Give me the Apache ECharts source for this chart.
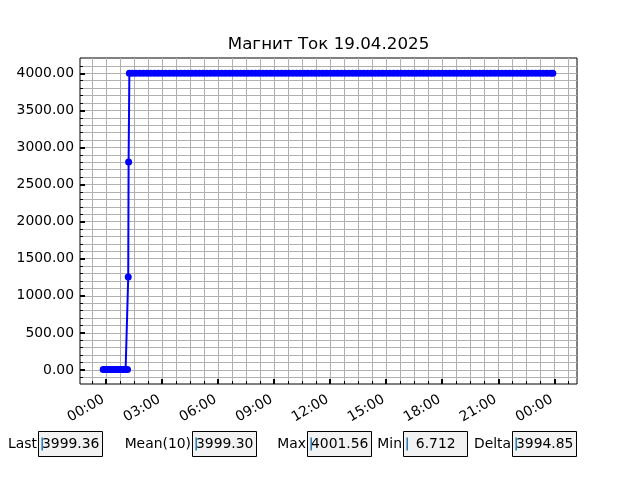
<!DOCTYPE html>
<html><head><meta charset="utf-8">
<script src="https://cdn.jsdelivr.net/npm/echarts@6/dist/echarts.min.js"></script>
<style>html,body{margin:0;padding:0;background:#fff}#c{width:640px;height:480px}</style>
</head><body><div id="c"></div>
<script>
const chartTitle = 'Магнит Ток 19.04.2025';

// time in hours relative to 19.04.2025 00:00
const hours = [
  -0.15, -0.05, 0.05, 0.15, 0.25, 0.35, 0.45, 0.55, 0.65, 0.75, 0.85, 0.95, 1.05, 1.15,
  1.19, 1.21, 1.25,
  1.4, 1.6, 1.8, 2.0, 2.2, 2.4, 2.6, 2.8, 3.0, 3.2,
  3.4, 3.6, 3.8, 4.0, 4.2, 4.4, 4.6, 4.8, 5.0, 5.2,
  5.4, 5.6, 5.8, 6.0, 6.2, 6.4, 6.6, 6.8, 7.0, 7.2,
  7.4, 7.6, 7.8, 8.0, 8.2, 8.4, 8.6, 8.8, 9.0, 9.2,
  9.4, 9.6, 9.8, 10.0, 10.2, 10.4, 10.6, 10.8, 11.0, 11.2,
  11.4, 11.6, 11.8, 12.0, 12.2, 12.4, 12.6, 12.8, 13.0, 13.2,
  13.4, 13.6, 13.8, 14.0, 14.2, 14.4, 14.6, 14.8, 15.0, 15.2,
  15.4, 15.6, 15.8, 16.0, 16.2, 16.4, 16.6, 16.8, 17.0, 17.2,
  17.4, 17.6, 17.8, 18.0, 18.2, 18.4, 18.6, 18.8, 19.0, 19.2,
  19.4, 19.6, 19.8, 20.0, 20.2, 20.4, 20.6, 20.8, 21.0, 21.2,
  21.4, 21.6, 21.8, 22.0, 22.2, 22.4, 22.6, 22.8, 23.0, 23.2,
  23.4, 23.6, 23.8, 23.92
];
const current = [
  6.9, 7.1, 6.8, 7.0, 6.712, 6.9, 7.2, 6.8, 7.0, 6.9, 7.1, 6.8, 7.0, 6.9,
  1253.4, 2803.1, 3999.5,
  3999.8, 4000.1, 3999.6, 3999.9, 4000.2, 3999.7, 3999.5, 4000.0, 3999.8, 3999.4,
  3999.9, 4000.3, 3999.6, 3999.8, 4000.1, 3999.5, 3999.7, 4000.0, 3999.9, 3999.6,
  4000.2, 3999.8, 3999.5, 3999.9, 4000.1, 3999.7, 3999.6, 4000.0, 3999.8, 4000.3,
  3999.7, 3999.9, 4000.2, 3999.6, 4000.1, 3999.8, 4000.4, 4001.2, 4000.3, 3999.7,
  3999.9, 4000.1, 3999.6, 3999.8, 4000.2, 4000.8, 4001.56, 4000.4, 3999.9, 3999.7,
  4000.0, 3999.8, 3999.5, 3999.9, 4000.2, 3999.6, 3999.8, 4000.1, 3999.7, 3999.5,
  3999.9, 4000.0, 3999.6, 3999.8, 4000.2, 3999.7, 3999.4, 3999.9, 4000.1, 3999.6,
  3999.8, 4000.0, 3999.5, 3999.7, 4000.1, 3999.9, 3999.6, 3999.8, 4000.2, 3999.7,
  3999.5, 3999.9, 4000.0, 3999.6, 3999.8, 4000.1, 3999.7, 3999.4, 3999.9, 3999.6,
  4000.0, 3999.8, 3999.5, 3999.7, 4000.1, 3999.6, 3999.9, 3999.8, 3999.4, 3999.7,
  3999.9, 3999.6, 4000.0, 3999.5, 3999.8, 3999.3, 3999.6, 3999.2, 3999.4, 3999.1,
  3999.3, 3999.0, 3999.4, 3999.36
];

const xTickHours = [0, 3, 6, 9, 12, 15, 18, 21, 24];
const xTickLabels = ['00:00', '03:00', '06:00', '09:00', '12:00', '15:00', '18:00', '21:00', '00:00'];
const yTickValues = [0, 500, 1000, 1500, 2000, 2500, 3000, 3500, 4000];

const statLabels = ['Last', 'Mean(10)', 'Max', 'Min', 'Delta'];
const statValues = ['3999.36', '3999.30', '4001.56', '  6.712', '3994.85'];

// axis view range
const X_MIN = -1.392, X_MAX = 25.214;
const Y_MIN = -189, Y_MAX = 4206;

// minor grid positions (45 min in x, 100 in y)
const xMinor = [];
for (let v = -0.75; v <= 24.76; v += 0.75) xMinor.push(Math.round(v * 100) / 100);
const yMinor = [];
for (let v = -100; v <= 4100; v += 100) yMinor.push(v);

const FONT = 'DejaVu Sans';
const chart = echarts.init(document.getElementById('c'), null, {renderer: 'canvas'});

const boxLefts = [38, 192, 307, 403, 512];
const graphics = [{
  type: 'text', x: 328.5, y: 44.5,
  style: {text: chartTitle, font: '16.7px "DejaVu Sans"', fill: '#000', align: 'center', verticalAlign: 'middle'}
}];
statLabels.forEach((lab, i) => {
  const bx = boxLefts[i];
  graphics.push({type: 'text', x: bx - 1, y: 444,
    style: {text: lab, font: '13.9px "DejaVu Sans"', fill: '#000', align: 'right', verticalAlign: 'middle'}});
  graphics.push({type: 'rect', shape: {x: bx + 0.5, y: 431.5, width: 64, height: 25},
    style: {fill: '#f2f2f2', stroke: '#000', lineWidth: 1}});
  graphics.push({type: 'text', x: bx + 4, y: 444, z: 10,
    style: {text: statValues[i], font: '13.9px "DejaVu Sans"', fill: '#000', align: 'left', verticalAlign: 'middle'}});
  graphics.push({type: 'line', z: 11, shape: {x1: bx + 4.2, y1: 437.5, x2: bx + 4.2, y2: 450.5},
    style: {stroke: '#1f77b4', lineWidth: 1.5}});
});

chart.setOption({
  animation: false,
  backgroundColor: '#fff',
  grid: {left: 80, right: 63, top: 58, bottom: 96, show: true, borderColor: '#000', borderWidth: 1, backgroundColor: 'transparent', containLabel: false},
  xAxis: [{
    type: 'value', min: X_MIN, max: X_MAX, position: 'bottom',
    axisLine: {show: false, onZero: false},
    axisTick: {show: true, inside: true, length: 3, customValues: xMinor, lineStyle: {color: '#000', width: 1}},
    splitLine: {show: true, lineStyle: {color: '#b0b0b0', width: 1}},
    axisLabel: {
      customValues: xTickHours, rotate: 30, margin: 13, color: '#000', fontSize: 13.9, fontFamily: FONT,
      padding: [0, 3, 0, 0],
      formatter: v => { const i = xTickHours.findIndex(t => Math.abs(t - v) < 1e-6); return i >= 0 ? xTickLabels[i] : ''; }
    }
  }, {
    type: 'value', min: X_MIN, max: X_MAX, position: 'bottom', offset: 0,
    axisLine: {show: false, onZero: false},
    axisTick: {show: true, inside: true, length: 5, customValues: xTickHours, lineStyle: {color: '#000', width: 2}},
    splitLine: {show: false},
    axisLabel: {show: false}
  }],
  yAxis: [{
    type: 'value', min: Y_MIN, max: Y_MAX, position: 'left',
    axisLine: {show: false, onZero: false},
    axisTick: {show: true, inside: true, length: 3, customValues: yMinor, lineStyle: {color: '#000', width: 1}},
    splitLine: {show: true, lineStyle: {color: '#b0b0b0', width: 1}},
    axisLabel: {
      customValues: yTickValues, margin: 6, color: '#000', fontSize: 13.9, fontFamily: FONT,
      formatter: v => v.toFixed(2)
    }
  }, {
    type: 'value', min: Y_MIN, max: Y_MAX, position: 'left', offset: 0,
    axisLine: {show: false, onZero: false},
    axisTick: {show: true, inside: true, length: 5, customValues: yTickValues, lineStyle: {color: '#000', width: 2}},
    splitLine: {show: false},
    axisLabel: {show: false}
  }],
  series: [{
    type: 'line', xAxisIndex: 0, yAxisIndex: 0,
    data: hours.map((h, i) => [h, current[i]]),
    showSymbol: true, showAllSymbol: true, symbol: 'circle', symbolSize: 7,
    lineStyle: {color: '#0000ff', width: 2},
    itemStyle: {color: '#0000ff', borderWidth: 0},
    emphasis: {disabled: true},
    z: 5
  }],
  graphic: graphics
});
</script>
</body></html>
